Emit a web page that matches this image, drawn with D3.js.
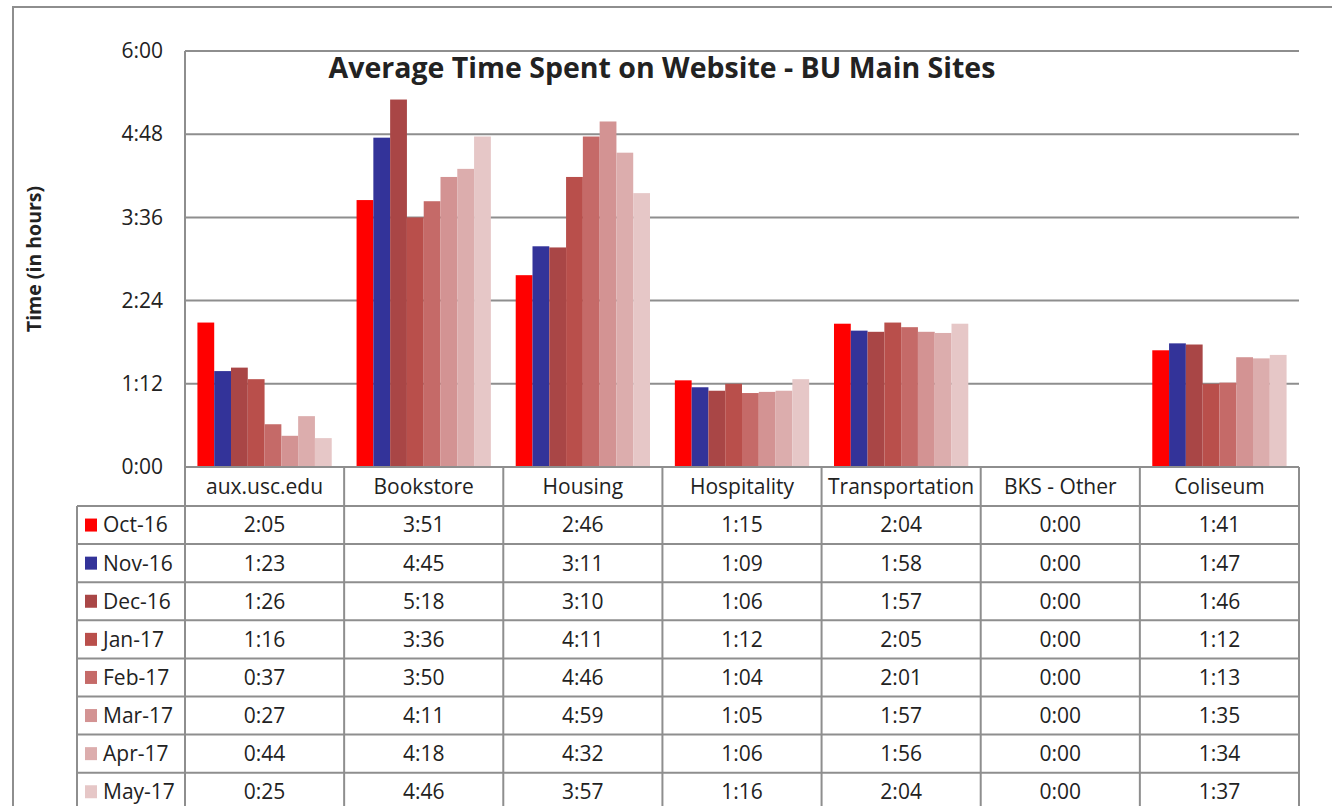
<!DOCTYPE html>
<html>
<head>
<meta charset="utf-8">
<script src="https://cdn.jsdelivr.net/npm/d3@7"></script>
<style>
  body { margin: 0; background: #fff; }
  text { font-family: "Open Sans", sans-serif; fill: #222; }
</style>
</head>
<body>
<div id="chart"></div>
<script>
// sites along the x axis
var sites = ["aux.usc.edu", "Bookstore", "Housing", "Hospitality", "Transportation", "BKS - Other", "Coliseum"];

// one series per month, values as shown in the data table (h:mm)
var months = ["Oct-16", "Nov-16", "Dec-16", "Jan-17", "Feb-17", "Mar-17", "Apr-17", "May-17"];
var oct16 = ["2:05", "3:51", "2:46", "1:15", "2:04", "0:00", "1:41"];
var nov16 = ["1:23", "4:45", "3:11", "1:09", "1:58", "0:00", "1:47"];
var dec16 = ["1:26", "5:18", "3:10", "1:06", "1:57", "0:00", "1:46"];
var jan17 = ["1:16", "3:36", "4:11", "1:12", "2:05", "0:00", "1:12"];
var feb17 = ["0:37", "3:50", "4:46", "1:04", "2:01", "0:00", "1:13"];
var mar17 = ["0:27", "4:11", "4:59", "1:05", "1:57", "0:00", "1:35"];
var apr17 = ["0:44", "4:18", "4:32", "1:06", "1:56", "0:00", "1:34"];
var may17 = ["0:25", "4:46", "3:57", "1:16", "2:04", "0:00", "1:37"];

var monthColors = ["#ff0000", "#333399", "#a94646", "#b94f4b", "#c56a68", "#d39393", "#dcadad", "#e6c7c7"];

var yTicks = ["0:00", "1:12", "2:24", "3:36", "4:48", "6:00"];

var fullwidth = 1332,
    fullheight = 806,
    plot = {left: 185, right: 1299, top: 51, bottom: 467},
    legendLeft = 77,
    headerBottom = 506,
    rowH = 38.1,
    lineColor = "#8e8e8e";

function toMinutes(s) {
    var p = s.split(":");
    return (+p[0]) * 60 + (+p[1]);
}

var seriesValues = [oct16, nov16, dec16, jan17, feb17, mar17, apr17, may17];
var dataset = months.map(function(m, i) {
    return {month: m, color: monthColors[i], values: seriesValues[i]};
});

var svg = d3.select("#chart")
    .append("svg")
    .attr("width", fullwidth)
    .attr("height", fullheight);

// outer chart frame
svg.append("rect")
    .attr("x", 13).attr("y", 7)
    .attr("width", 1400).attr("height", 1000)
    .attr("fill", "none")
    .attr("stroke", lineColor)
    .attr("stroke-width", 2);

var colScale = d3.scaleBand()
    .domain(sites)
    .range([plot.left, plot.right]);

var barScale = d3.scaleBand()
    .domain(months)
    .range([0, colScale.bandwidth()])
    .paddingInner(0)
    .paddingOuter(0.74);

var yScale = d3.scaleLinear()
    .domain([0, toMinutes("6:00")])
    .range([plot.bottom, plot.top]);

// gridlines
svg.append("g")
    .classed("grid", true)
    .selectAll("line")
    .data(yTicks)
    .enter().append("line")
    .attr("x1", plot.left)
    .attr("x2", plot.right)
    .attr("y1", function(d) { return yScale(toMinutes(d)); })
    .attr("y2", function(d) { return yScale(toMinutes(d)); })
    .attr("stroke", lineColor)
    .attr("stroke-width", 2);

// y axis labels
var yAxis = d3.axisLeft(yScale)
    .tickValues(yTicks.map(toMinutes))
    .tickFormat(function(d, i) { return yTicks[i]; })
    .tickSize(0)
    .tickPadding(22);

var yAxisEle = svg.append("g")
    .classed("y axis", true)
    .attr("transform", "translate(" + plot.left + ",0)")
    .call(yAxis);
yAxisEle.select(".domain").remove();
yAxisEle.selectAll("text")
    .style("font-size", "21px")
    .style("font-family", "'Open Sans', sans-serif")
    .attr("fill", "#222");

svg.append("line")
    .attr("x1", plot.left).attr("x2", plot.left)
    .attr("y1", plot.top).attr("y2", fullheight + 10)
    .attr("stroke", lineColor).attr("stroke-width", 2);

svg.append("text")
    .attr("transform", "translate(41," + (plot.top + plot.bottom) / 2 + ")rotate(-90)")
    .style("text-anchor", "middle")
    .style("font-weight", "bold")
    .style("font-size", "19.5px")
    .attr("fill", "#000")
    .text("Time (in hours)");

// bars
var barHolder = svg.append("g").classed("bar-holder", true);

var seriesG = barHolder.selectAll("g.series")
    .data(dataset)
    .enter().append("g")
    .classed("series", true)
    .attr("fill", function(d) { return d.color; });

seriesG.selectAll("rect.bar")
    .data(function(d) {
        return d.values.map(function(v, i) { return {site: sites[i], month: d.month, value: toMinutes(v)}; });
    })
    .enter().append("rect")
    .classed("bar", true)
    .attr("x", function(d) { return colScale(d.site) + barScale(d.month); })
    .attr("width", barScale.bandwidth())
    .attr("y", function(d) { return yScale(d.value); })
    .attr("height", function(d) { return yScale(0) - yScale(d.value); });

// title
svg.append("text")
    .attr("x", 662)
    .attr("y", 78)
    .style("text-anchor", "middle")
    .style("font-weight", "bold")
    .style("font-size", "28.5px")
    .attr("fill", "#000")
    .text("Average Time Spent on Website - BU Main Sites");

// data table
var table = svg.append("g").classed("data-table", true);
var nRows = months.length;
var rowY = function(i) { return headerBottom + rowH * i; };

table.append("line")
    .attr("x1", plot.left).attr("x2", plot.right)
    .attr("y1", plot.bottom).attr("y2", plot.bottom)
    .attr("stroke", lineColor).attr("stroke-width", 2);

table.selectAll("line.hrow")
    .data(d3.range(nRows + 1))
    .enter().append("line")
    .classed("hrow", true)
    .attr("x1", legendLeft).attr("x2", plot.right)
    .attr("y1", function(i) { return rowY(i); })
    .attr("y2", function(i) { return rowY(i); })
    .attr("stroke", lineColor).attr("stroke-width", 2);

table.selectAll("line.vcol")
    .data(sites.slice(1).concat(["end"]))
    .enter().append("line")
    .classed("vcol", true)
    .attr("x1", function(d) { return d === "end" ? plot.right : colScale(d); })
    .attr("x2", function(d) { return d === "end" ? plot.right : colScale(d); })
    .attr("y1", plot.bottom).attr("y2", fullheight + 10)
    .attr("stroke", lineColor).attr("stroke-width", 2);

table.append("line")
    .attr("x1", legendLeft).attr("x2", legendLeft)
    .attr("y1", headerBottom).attr("y2", fullheight + 10)
    .attr("stroke", lineColor).attr("stroke-width", 2);

table.selectAll("text.site")
    .data(sites)
    .enter().append("text")
    .classed("site", true)
    .attr("x", function(d) { return colScale(d) + colScale.bandwidth() / 2; })
    .attr("y", (plot.bottom + headerBottom) / 2)
    .attr("dy", "0.35em")
    .style("text-anchor", "middle")
    .style("font-size", "21px")
    .text(function(d) { return d; });

var rows = table.selectAll("g.row")
    .data(dataset)
    .enter().append("g")
    .classed("row", true)
    .attr("transform", function(d, i) { return "translate(0," + (rowY(i) + rowH / 2) + ")"; });

rows.append("rect")
    .attr("x", 85).attr("y", -6.5)
    .attr("width", 12).attr("height", 13)
    .attr("fill", function(d) { return d.color; });

rows.append("text")
    .attr("x", 103)
    .attr("dy", "0.35em")
    .style("font-size", "21px")
    .text(function(d) { return d.month; });

rows.selectAll("text.val")
    .data(function(d) { return d.values; })
    .enter().append("text")
    .classed("val", true)
    .attr("x", function(d, i) { return colScale(sites[i]) + colScale.bandwidth() / 2; })
    .attr("dy", "0.35em")
    .style("text-anchor", "middle")
    .style("font-size", "21px")
    .text(function(d) { return d; });
</script>
</body>
</html>
